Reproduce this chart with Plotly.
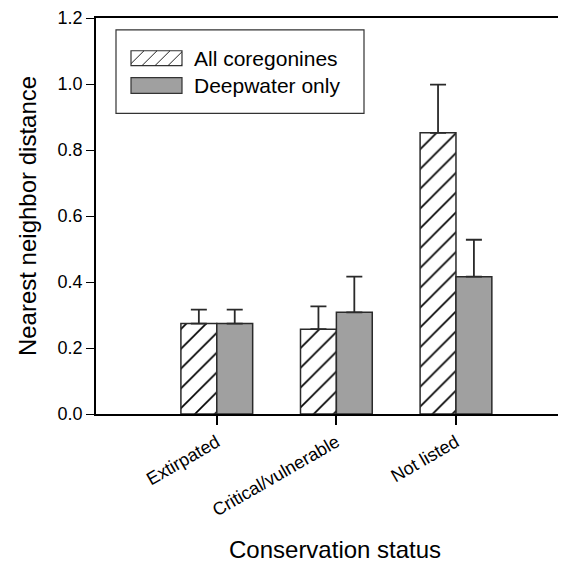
import plotly.graph_objects as go

categories = ["Extirpated", "Critical/vulnerable", "Not listed"]
all_coregonines = [0.274, 0.257, 0.852]
all_coregonines_err = [0.042, 0.069, 0.146]
deepwater_only = [0.274, 0.308, 0.416]
deepwater_only_err = [0.042, 0.108, 0.112]
series_names = ["All coregonines", "Deepwater only"]
y_ticks = [0.0, 0.2, 0.4, 0.6, 0.8, 1.0, 1.2]

FONT = "Liberation Sans, Arial, Helvetica, sans-serif"
EDGE = "#2a2a2a"
GRAY = "#a0a0a0"

OFF = 8  # page body margin
W, H = 566 - OFF, 564 - OFF
# plot area in page pixels: x 96..566, y 15..414
ML, MR, MT = 96 - OFF, 0, 15 - OFF
MB = H - (414 - OFF)
PW, PH = W - ML - MR, H - MT - MB

x_idx = list(range(len(categories)))

fig = go.Figure()
fig.add_trace(go.Bar(
    x=x_idx, y=all_coregonines, name=series_names[0],
    marker=dict(color="white", line=dict(color=EDGE, width=1.5),
                pattern=dict(shape="/", fgcolor="#000000", bgcolor="white", size=14,
                             solidity=0.12, fgopacity=1)),
    error_y=dict(type="data", array=all_coregonines_err, arrayminus=[0]*3, symmetric=False,
                 color=EDGE, thickness=1.8, width=8),
))
fig.add_trace(go.Bar(
    x=x_idx, y=deepwater_only, name=series_names[1],
    marker=dict(color=GRAY, line=dict(color=EDGE, width=1.5)),
    error_y=dict(type="data", array=deepwater_only_err, arrayminus=[0]*3, symmetric=False,
                 color=EDGE, thickness=1.8, width=8),
))

# page px -> paper helpers
def px_x(px):
    return (px - OFF - ML) / PW

def px_y(py):
    return (H - MB - (py - OFF)) / PH

shapes = []
shapes.append(dict(type="rect", xref="paper", yref="paper",
                   x0=px_x(116), x1=px_x(364), y0=px_y(111), y1=px_y(27),
                   line=dict(color="#333333", width=1.2), fillcolor="white", layer="above"))
sx0, sx1, sy0, sy1 = 131, 182, 48, 63
shapes.append(dict(type="rect", xref="paper", yref="paper",
                   x0=px_x(sx0), x1=px_x(sx1), y0=px_y(sy1), y1=px_y(sy0),
                   line=dict(color="#333333", width=1.2), fillcolor="white", layer="above"))
h = sy1 - sy0
step = 13
xs = sx0 - h
while xs < sx1:
    ax, ay = xs, sy1
    bx, by = xs + h, sy0
    if ax < sx0:
        ay = sy1 - (sx0 - ax)
        ax = sx0
    if bx > sx1:
        by = sy0 + (bx - sx1)
        bx = sx1
    if bx > ax:
        shapes.append(dict(type="line", xref="paper", yref="paper",
                           x0=px_x(ax), y0=px_y(ay), x1=px_x(bx), y1=px_y(by),
                           line=dict(color="#222222", width=1), layer="above"))
    xs += step
shapes.append(dict(type="rect", xref="paper", yref="paper",
                   x0=px_x(131), x1=px_x(182), y0=px_y(91), y1=px_y(75),
                   line=dict(color="#333333", width=1.2), fillcolor=GRAY, layer="above"))

annotations = [
    dict(text=series_names[0], xref="paper", yref="paper", x=px_x(192), y=px_y(56),
         xanchor="left", yanchor="middle", showarrow=False, font=dict(size=21, color="black", family=FONT)),
    dict(text=series_names[1], xref="paper", yref="paper", x=px_x(192), y=px_y(83),
         xanchor="left", yanchor="middle", showarrow=False, font=dict(size=21, color="black", family=FONT)),
    dict(text="Conservation status", xref="paper", yref="paper", x=px_x(335), y=px_y(551),
         xanchor="center", yanchor="middle", showarrow=False, font=dict(size=24, color="black", family=FONT)),
]

fig.update_layout(
    width=W, height=H,
    margin=dict(l=ML, r=MR, t=MT, b=MB, pad=0),
    paper_bgcolor="white", plot_bgcolor="white",
    barmode="group", bargap=0.4, bargroupgap=0,
    showlegend=False,
    font=dict(family=FONT, color="black"),
    shapes=shapes, annotations=annotations,
    xaxis=dict(range=[-1.01, 2.92], tickmode="array", tickvals=x_idx, ticktext=categories,
               tickangle=-30, ticks="outside", ticklen=9, tickwidth=1.5, tickcolor="black",
               showline=True, linecolor="black", linewidth=1.5, mirror=True,
               showgrid=False, zeroline=False, tickfont=dict(size=18, family=FONT)),
    yaxis=dict(range=[0, 1.2], tickmode="array", tickvals=y_ticks,
               tickformat=".1f", ticks="outside", ticklen=8, tickwidth=1.2, tickcolor="black",
               showline=True, linecolor="black", linewidth=1.5, ticklabeloverflow="allow",
               showgrid=False, zeroline=False, tickfont=dict(size=18, family=FONT),
               title=dict(text="Nearest neighbor distance", font=dict(size=24, family=FONT), standoff=14)),
)

fig.write_html("out.html")
